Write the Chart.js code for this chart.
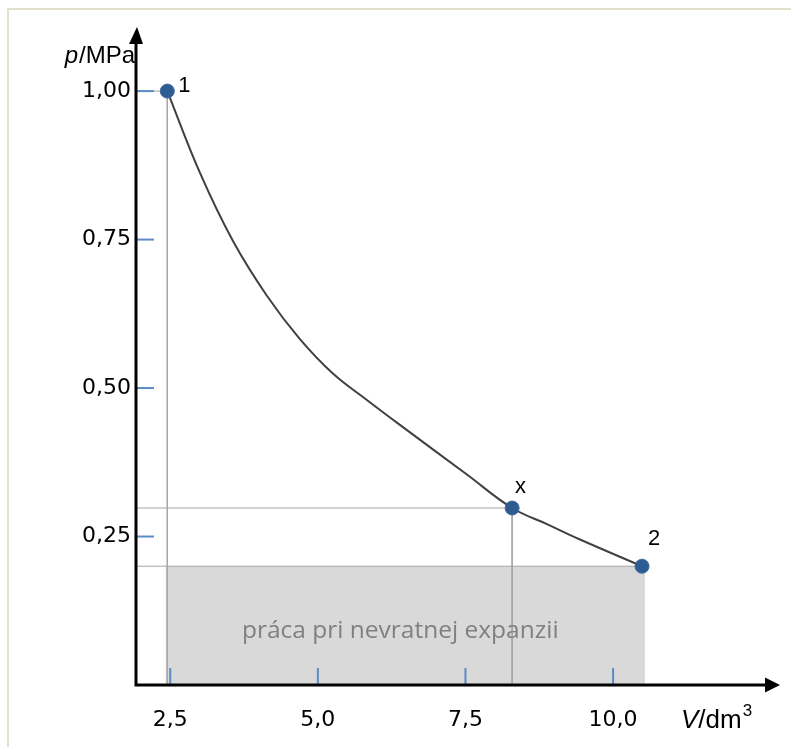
<!DOCTYPE html>
<html lang="sk">
<head>
  <meta charset="UTF-8">
  <title>Nevratná expanzia</title>
  <script src="https://cdn.jsdelivr.net/npm/chart.js"></script>
  <style>
    body { margin: 0; background: #fff; }
    #wrap { width: 791px; height: 747px; }
  </style>
</head>
<body>
  <div id="wrap"><canvas id="pv" width="791" height="747"></canvas></div>

  <script>
    // curve (V in dm3, p in MPa)
    const curveV = [2.45, 3.00, 3.56, 4.14, 4.70, 5.26, 5.83, 6.39, 7.53, 8.29, 8.88, 9.44, 10.49];
    const curveP = [1.000, 0.863, 0.748, 0.655, 0.582, 0.524, 0.480, 0.438, 0.354, 0.298, 0.271, 0.245, 0.200];

    // marked states
    const stateNames = ['1', 'x', '2'];
    const stateV = [2.45, 8.29, 10.49];
    const stateP = [1.00, 0.298, 0.200];

    // work rectangle (p_ext * dV)
    const workV = [2.42, 10.54];
    const workP = 0.200;
    const workText = 'práca pri nevratnej expanzii';

    const xTicks = [2.5, 5.0, 7.5, 10.0];
    const yTicks = [0.25, 0.50, 0.75, 1.00];
    const xMin = 1.92, xMax = 12.59;
    const yMin = 0, yMax = 1.081;

    const guideColor = '#a6a6a6';

    function guide(pts) {
      return {
        data: pts, showLine: true, borderColor: guideColor, borderWidth: 1,
        pointRadius: 0, fill: false, order: 3
      };
    }

    const datasets = [
      {
        label: 'stavy',
        data: stateV.map((v, i) => ({ x: v, y: stateP[i] })),
        backgroundColor: '#2f5b93', borderColor: '#3d6aa3', borderWidth: 1,
        pointRadius: 7, order: 0
      },
      {
        type: 'line',
        label: 'izoterma',
        data: curveV.map((v, i) => ({ x: v, y: curveP[i] })),
        borderColor: '#404040', borderWidth: 2,
        pointRadius: 0, tension: 0.4, fill: false, order: 1
      },
      guide([{ x: xMin, y: stateP[0] }, { x: stateV[0], y: stateP[0] }, { x: stateV[0], y: 0 }]),
      guide([{ x: xMin, y: stateP[1] }, { x: stateV[1], y: stateP[1] }, { x: stateV[1], y: 0 }]),
      guide([{ x: xMin, y: stateP[2] }, { x: stateV[2], y: stateP[2] }]),
      {
        label: 'práca',
        data: workV.map(v => ({ x: v, y: workP })),
        showLine: true, borderWidth: 0, borderColor: 'rgba(0,0,0,0)',
        backgroundColor: '#d9d9d9', fill: 'origin', pointRadius: 0, order: 5
      }
    ];

    const fmt = (v, d) => v.toFixed(d).replace('.', ',');

    const decor = {
      id: 'decor',
      beforeDraw(chart) {
        const c = chart.ctx;
        c.save();
        c.fillStyle = '#fff';
        c.fillRect(0, 0, chart.width, chart.height);
        c.strokeStyle = '#e2dfcc';
        c.lineWidth = 2;
        c.beginPath();
        c.moveTo(8, chart.height);
        c.lineTo(8, 9);
        c.lineTo(chart.width, 9);
        c.stroke();
        c.restore();
      },
      afterDraw(chart) {
        const c = chart.ctx;
        const a = chart.chartArea;
        const xs = chart.scales.x, ys = chart.scales.y;
        c.save();

        // blue tick marks, pointing into the plot
        c.strokeStyle = '#5b8bc6';
        c.lineWidth = 2;
        yTicks.forEach(t => {
          const y = ys.getPixelForValue(t);
          c.beginPath(); c.moveTo(a.left, y); c.lineTo(a.left + 18, y); c.stroke();
        });
        xTicks.forEach(t => {
          const x = xs.getPixelForValue(t);
          c.beginPath(); c.moveTo(x, a.bottom - 1); c.lineTo(x, a.bottom - 17); c.stroke();
        });

        // axes with arrows
        c.strokeStyle = '#000';
        c.fillStyle = '#000';
        c.lineWidth = 3;
        c.beginPath();
        c.moveTo(a.left, a.bottom + 1.5);
        c.lineTo(a.left, a.top);
        c.moveTo(a.left - 1.5, a.bottom);
        c.lineTo(a.right, a.bottom);
        c.stroke();
        c.beginPath();
        c.moveTo(a.left - 7, a.top + 1); c.lineTo(a.left + 7, a.top + 1); c.lineTo(a.left + 1, a.top - 16); c.closePath();
        c.fill();
        c.beginPath();
        c.moveTo(a.right - 1, a.bottom - 7.5); c.lineTo(a.right - 1, a.bottom + 7.5); c.lineTo(a.right + 14, a.bottom); c.closePath();
        c.fill();

        // axis titles
        c.textBaseline = 'alphabetic';
        c.textAlign = 'left';
        c.font = 'italic 24px "Liberation Sans"';
        const pw = c.measureText('p').width + 1;
        c.font = '24px "Liberation Sans"';
        const rest = c.measureText('/MPa').width;
        let tx = a.left - 1 - pw - rest;
        c.font = 'italic 24px "Liberation Sans"';
        c.fillText('p', tx, 63);
        c.font = '24px "Liberation Sans"';
        c.fillText('/MPa', tx + pw, 63);

        c.font = 'italic 26px "Liberation Sans"';
        c.fillText('V', 681, 728);
        let vx = 681 + c.measureText('V').width;
        c.font = '26px "Liberation Sans"';
        c.fillText('/dm', vx, 728);
        vx += c.measureText('/dm').width;
        c.font = '17px "Liberation Sans"';
        c.fillText('3', vx + 1, 716);

        // state labels
        const off = [[11, -5], [3, -21], [6, -27]];
        c.font = '22px "Liberation Sans"';
        c.textBaseline = 'middle';
        stateNames.forEach((n, i) => {
          const px = xs.getPixelForValue(stateV[i]);
          const py = ys.getPixelForValue(stateP[i]);
          c.fillText(n, px + off[i][0], py + off[i][1]);
        });

        // work label
        c.fillStyle = '#808080';
        c.font = '24.5px "Open Sans"';
        c.textAlign = 'center';
        const cx = (xs.getPixelForValue(workV[0]) + xs.getPixelForValue(workV[1])) / 2 - 5;
        const cy = (ys.getPixelForValue(workP) + ys.getPixelForValue(0)) / 2 + 5;
        c.fillText(workText, cx, cy);
        c.restore();
      }
    };

    new Chart(document.getElementById('pv'), {
      type: 'scatter',
      data: { datasets },
      plugins: [decor],
      options: {
        responsive: false,
        animation: false,
        layout: { padding: { left: 0, right: 25, top: 43, bottom: 0 } },
        plugins: { legend: { display: false }, tooltip: { enabled: false } },
        scales: {
          x: {
            type: 'linear', min: xMin, max: xMax,
            grid: { display: false, drawTicks: false },
            border: { display: false },
            afterBuildTicks: s => { s.ticks = xTicks.map(v => ({ value: v })); },
            afterFit: s => { s.height = 62; },
            ticks: {
              color: '#000', padding: 22,
              font: { family: 'DejaVu Sans', size: 22 },
              callback: v => fmt(v, 1)
            }
          },
          y: {
            type: 'linear', min: yMin, max: yMax,
            grid: { display: false, drawTicks: false },
            border: { display: false },
            afterBuildTicks: s => { s.ticks = yTicks.map(v => ({ value: v })); },
            afterFit: s => { s.width = 136; },
            ticks: {
              color: '#000', padding: 5,
              font: { family: 'DejaVu Sans', size: 22 },
              callback: v => fmt(v, 2)
            }
          }
        }
      }
    });
  </script>
</body>
</html>
